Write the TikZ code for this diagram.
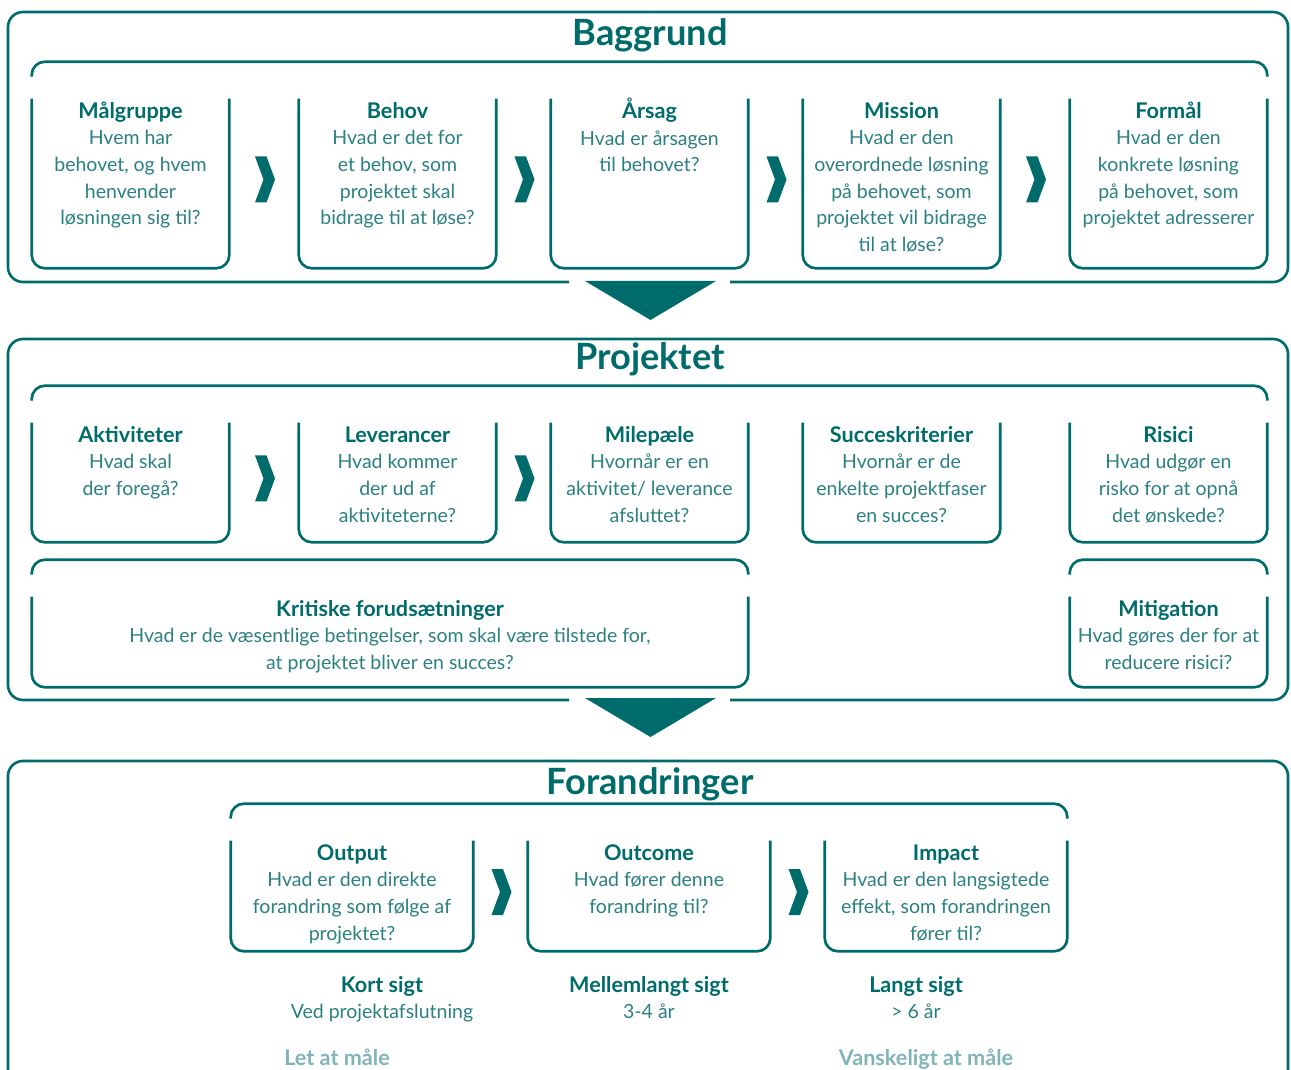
\documentclass[tikz,border=0pt]{standalone}
\usepackage{fontspec}
\setmainfont{Lato}
\usetikzlibrary{calc, positioning}

\definecolor{petrol}{HTML}{006B6B}
\definecolor{petroltxt}{HTML}{2B8080}
\definecolor{petrollys}{HTML}{80B4B8}

% open card: sides and rounded bottom, no top line
\newcommand{\opencard}[1]{\draw[frame] (#1.north west) -- (#1.south west) -- (#1.south east) -- (#1.north east);}
% lid over a row of cards
\newcommand{\cardlid}[2]{\draw[frame] ($(#1.north west)+(0,-22)$) -- ($(#1.north west)+(0,-37)$) -- ($(#2.north east)+(0,-37)$) -- ($(#2.north east)+(0,-22)$);}
% chevron between two cards
\newcommand{\nextstep}[2]{\fill[petrol] ($(#1.east)!0.5!(#2.west)+(1,-4)$) +(-10,-23) -- +(1.5,-23) -- +(10,0) -- +(1.5,23) -- +(-10,23) -- +(-1.5,0) -- cycle;}
\newcommand{\cardtitle}[1]{{\fontsize{12.3}{15.2}\selectfont\bfseries\color{petrol}\rule{0pt}{11.5pt}#1}}

\begin{document}
\begin{tikzpicture}[x=0.02cm, y=-0.02cm, line width=1.5pt,
    frame/.style={draw=petrol, rounded corners=7.5pt},
    outer/.style={draw=petrol, rounded corners=8.5pt},
    card/.style={inner sep=0pt, minimum width=3.9cm},
    txt/.style={align=center, text=petroltxt, inner sep=0pt, font=\fontsize{11.1}{15.2}\selectfont},
    cardtxt/.style={txt, anchor=north, yshift=1.2pt},
    sectitle/.style={anchor=base, text=petrol, font=\fontsize{20.6}{24}\selectfont\bfseries},
    tidtitle/.style={anchor=base, text=petrol, font=\fontsize{12.3}{15.2}\selectfont\bfseries},
    maal/.style={anchor=base, text=petrollys, font=\fontsize{12.3}{15.2}\selectfont\bfseries}]
    \useasboundingbox (0,0) rectangle (1291,1070);

    % Baggrund
    \node[sectitle] (baggrund) at (650,46) {Baggrund};
    \draw[outer] (569,282) -- (8,282) -- (8,12) -- (1288,12) -- (1288,282) -- (730,282);
    \fill[petrol] (585,281) -- (716,281) -- (650.5,320) -- cycle;

    \node[card, minimum height=3.34cm, label={[cardtxt]north:{\cardtitle{Målgruppe}\\Hvem har\\behovet, og hvem\\henvender\\løsningen sig til?}}] (malgruppe) at (130.5,183.5) {};
    \node[card, minimum height=3.34cm, label={[cardtxt]north:{\cardtitle{Behov}\\Hvad er det for\\et behov, som\\projektet skal\\bidrage til at løse?}}] (behov) at (397.5,183.5) {};
    \node[card, minimum height=3.34cm, label={[cardtxt]north:{\cardtitle{Årsag}\\Hvad er årsagen\\til behovet?}}] (aarsag) at (649.5,183.5) {};
    \node[card, minimum height=3.34cm, label={[cardtxt]north:{\cardtitle{Mission}\\Hvad er den\\overordnede løsning\\på behovet, som\\projektet vil bidrage\\til at løse?}}] (mission) at (901.5,183.5) {};
    \node[card, minimum height=3.34cm, label={[cardtxt]north:{\cardtitle{Formål}\\Hvad er den\\konkrete løsning\\på behovet, som\\projektet adresserer}}] (formaal) at (1168.5,183.5) {};

    \cardlid{malgruppe}{formaal}
    \opencard{malgruppe} \opencard{behov} \opencard{aarsag} \opencard{mission} \opencard{formaal}
    \nextstep{malgruppe}{behov} \nextstep{behov}{aarsag} \nextstep{aarsag}{mission} \nextstep{mission}{formaal}

    % Projektet
    \node[sectitle] (projektet) at (650,370) {Projektet};
    \draw[outer] (569,700) -- (8,700) -- (8,339) -- (1288,339) -- (1288,700) -- (730,700);
    \fill[petrol] (585,698) -- (716,698) -- (650.5,737) -- cycle;

    \node[card, minimum height=2.34cm, label={[cardtxt]north:{\cardtitle{Aktiviteter}\\Hvad skal\\der foregå?}}] (aktiviteter) at (130.5,482.5) {};
    \node[card, minimum height=2.34cm, label={[cardtxt]north:{\cardtitle{Leverancer}\\Hvad kommer\\der ud af\\aktiviteterne?}}] (leverancer) at (397.5,482.5) {};
    \node[card, minimum height=2.34cm, label={[cardtxt]north:{\cardtitle{Milepæle}\\Hvornår er en\\aktivitet/ leverance\\afsluttet?}}] (milepaele) at (649.5,482.5) {};
    \node[card, minimum height=2.34cm, label={[cardtxt]north:{\cardtitle{Succeskriterier}\\Hvornår er de\\enkelte projektfaser\\en succes?}}] (succes) at (901.5,482.5) {};
    \node[card, minimum height=2.34cm, label={[cardtxt]north:{\cardtitle{Risici}\\Hvad udgør en\\risko for at opnå\\det ønskede?}}] (risici) at (1168.5,482.5) {};
    \node[card, minimum width=14.28cm, minimum height=1.76cm, label={[cardtxt]north:{\cardtitle{Kritiske forudsætninger}\\Hvad er de væsentlige betingelser, som skal være tilstede for,\\at projektet bliver en succes?}}] (kritiske) at (390,642) {};
    \node[card, minimum height=1.76cm, label={[cardtxt]north:{\cardtitle{Mitigation}\\Hvad gøres der for at\\reducere risici?}}] (mitigation) at (1168.5,642) {};

    \cardlid{aktiviteter}{risici}
    \cardlid{kritiske}{kritiske}
    \cardlid{mitigation}{mitigation}
    \opencard{aktiviteter} \opencard{leverancer} \opencard{milepaele} \opencard{succes} \opencard{risici}
    \opencard{kritiske} \opencard{mitigation}
    \nextstep{aktiviteter}{leverancer} \nextstep{leverancer}{milepaele}

    % Forandringer
    \node[sectitle] (forandringer) at (650,794) {Forandringer};
    \draw[outer] (8,1080) -- (8,761) -- (1288,761) -- (1288,1080);

    \node[card, minimum width=4.8cm, minimum height=2.16cm, label={[cardtxt]north:{\cardtitle{Output}\\Hvad er den direkte\\forandring som følge af\\projektet?}}] (output) at (352,896) {};
    \node[card, minimum width=4.8cm, minimum height=2.16cm, label={[cardtxt]north:{\cardtitle{Outcome}\\Hvad fører denne\\forandring til?}}] (outcome) at (649,896) {};
    \node[card, minimum width=4.8cm, minimum height=2.16cm, label={[cardtxt]north:{\cardtitle{Impact}\\Hvad er den langsigtede\\effekt, som forandringen\\fører til?}}] (impact) at (946,896) {};

    \cardlid{output}{impact}
    \opencard{output} \opencard{outcome} \opencard{impact}
    \nextstep{output}{outcome} \nextstep{outcome}{impact}

    \node[tidtitle] (kort) at (382,992) {Kort sigt};
    \node[txt, anchor=base] (kortdesc) at (382,1018) {Ved projektafslutning};
    \node[tidtitle] (mellem) at (649,992) {Mellemlangt sigt};
    \node[txt, anchor=base] (mellemdesc) at (649,1018) {3-4 år};
    \node[tidtitle] (lang) at (916,992) {Langt sigt};
    \node[txt, anchor=base] (langdesc) at (916,1018) {> 6 år};

    \node[maal] (let) at (337,1065) {Let at måle};
    \node[maal] (svaer) at (926,1065) {Vanskeligt at måle};
\end{tikzpicture}
\end{document}
